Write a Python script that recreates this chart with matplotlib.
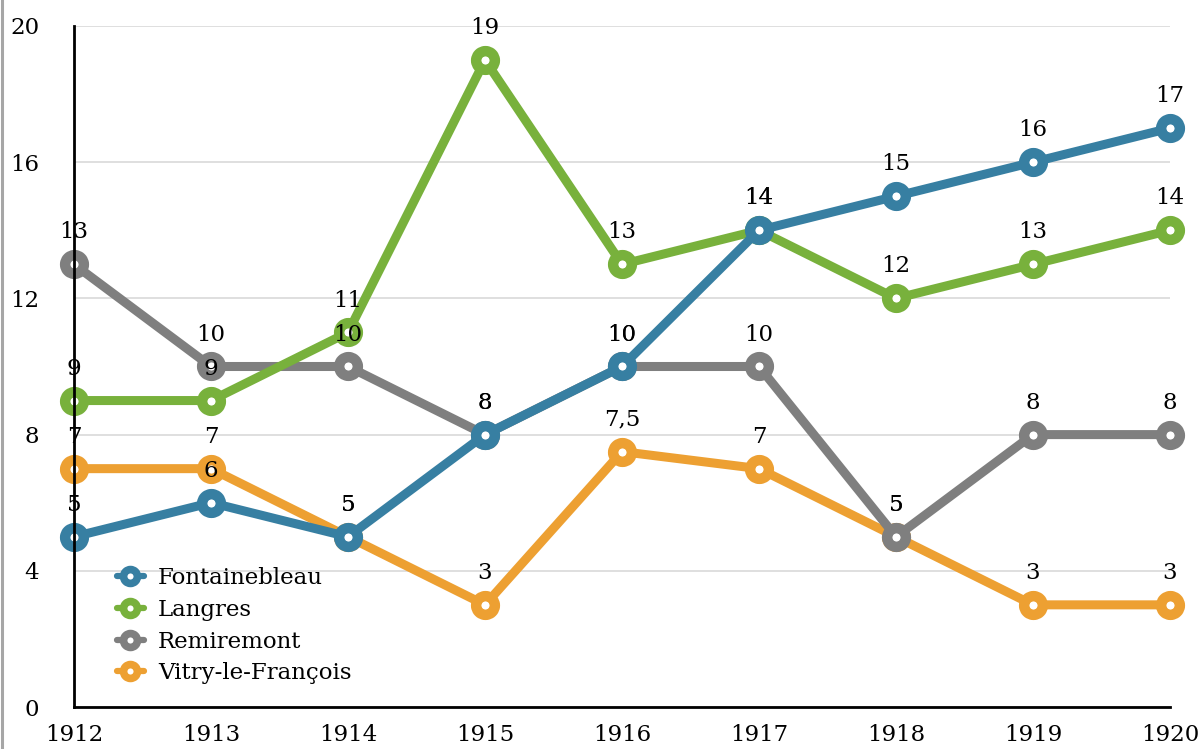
#!/usr/bin/env python
import matplotlib
matplotlib.use('Agg')
from matplotlib import pyplot as plt
from matplotlib.lines import Line2D

years = [1912, 1913, 1914, 1915, 1916, 1917, 1918, 1919, 1920]
fontainebleau = [5, 6, 5, 8, 10, 14, 15, 16, 17]
langres = [9, 9, 11, 19, 13, 14, 12, 13, 14]
remiremont = [13, 10, 10, 8, 10, 10, 5, 8, 8]
vitry = [7, 7, 5, 3, 7.5, 7, 5, 3, 3]

names = ['Fontainebleau', 'Langres', 'Remiremont', 'Vitry-le-François']
colors = ['#377fa2', '#78b13c', '#7f7f7f', '#eda032']
series = [fontainebleau, langres, remiremont, vitry]

plt.rcParams['font.family'] = ['DejaVu Serif']
plt.rcParams['font.size'] = 16.5

fig = plt.figure(figsize=(12.01, 7.49), dpi=100)
W, H = 1201, 749
ax = fig.add_axes([74 / W, 1 - 707 / H, (1170 - 74) / W, (707 - 26) / H])

handles = [None] * 4
# last series drawn first so the first one sits on top
for i in range(3, -1, -1):
    ln, = ax.plot(years, series[i], color=colors[i], linewidth=6.5, marker='o',
                  markersize=13.5, markerfacecolor='white', markeredgecolor=colors[i],
                  markeredgewidth=7.5, clip_on=False, zorder=3 + (3 - i), label=names[i],
                  solid_capstyle='round')
    handles[i] = ln
    for x, y in zip(years, series[i]):
        txt = ('%g' % y).replace('.', ',')
        ax.annotate(txt, (x, y), xytext=(0, 23), textcoords='offset points',
                    ha='center', va='center', fontsize=16.5, color='black', zorder=20,
                    annotation_clip=False)

ax.set_xlim(1912, 1920)
ax.set_ylim(0, 20)
ax.set_yticks([0, 4, 8, 12, 16, 20])
ax.set_xticks(years)
ax.grid(axis='y', color='#d9d9d9', linewidth=1.2)
ax.set_axisbelow(True)
for s in ['top', 'right']:
    ax.spines[s].set_visible(False)
for s in ['left', 'bottom']:
    ax.spines[s].set_linewidth(2)
    ax.spines[s].set_color('black')
    ax.spines[s].set_zorder(15)
ax.tick_params(axis='both', length=0)
ax.tick_params(axis='y', pad=25)
ax.tick_params(axis='x', pad=12)

leg = ax.legend(handles=handles, loc='lower left', bbox_to_anchor=(0.02, 0.003),
                frameon=False, handlelength=1.2, handletextpad=0.6,
                labelspacing=0.42, fontsize=16.5)
for h in leg.legend_handles:
    h.set_markersize(10)
    h.set_markeredgewidth(5.5)
    h.set_linewidth(4.5)

fig.add_artist(Line2D([1.5 / W, 1.5 / W], [0, 1], color='#a6a6a6', linewidth=2.2))

fig.savefig('out.png', dpi=100)
